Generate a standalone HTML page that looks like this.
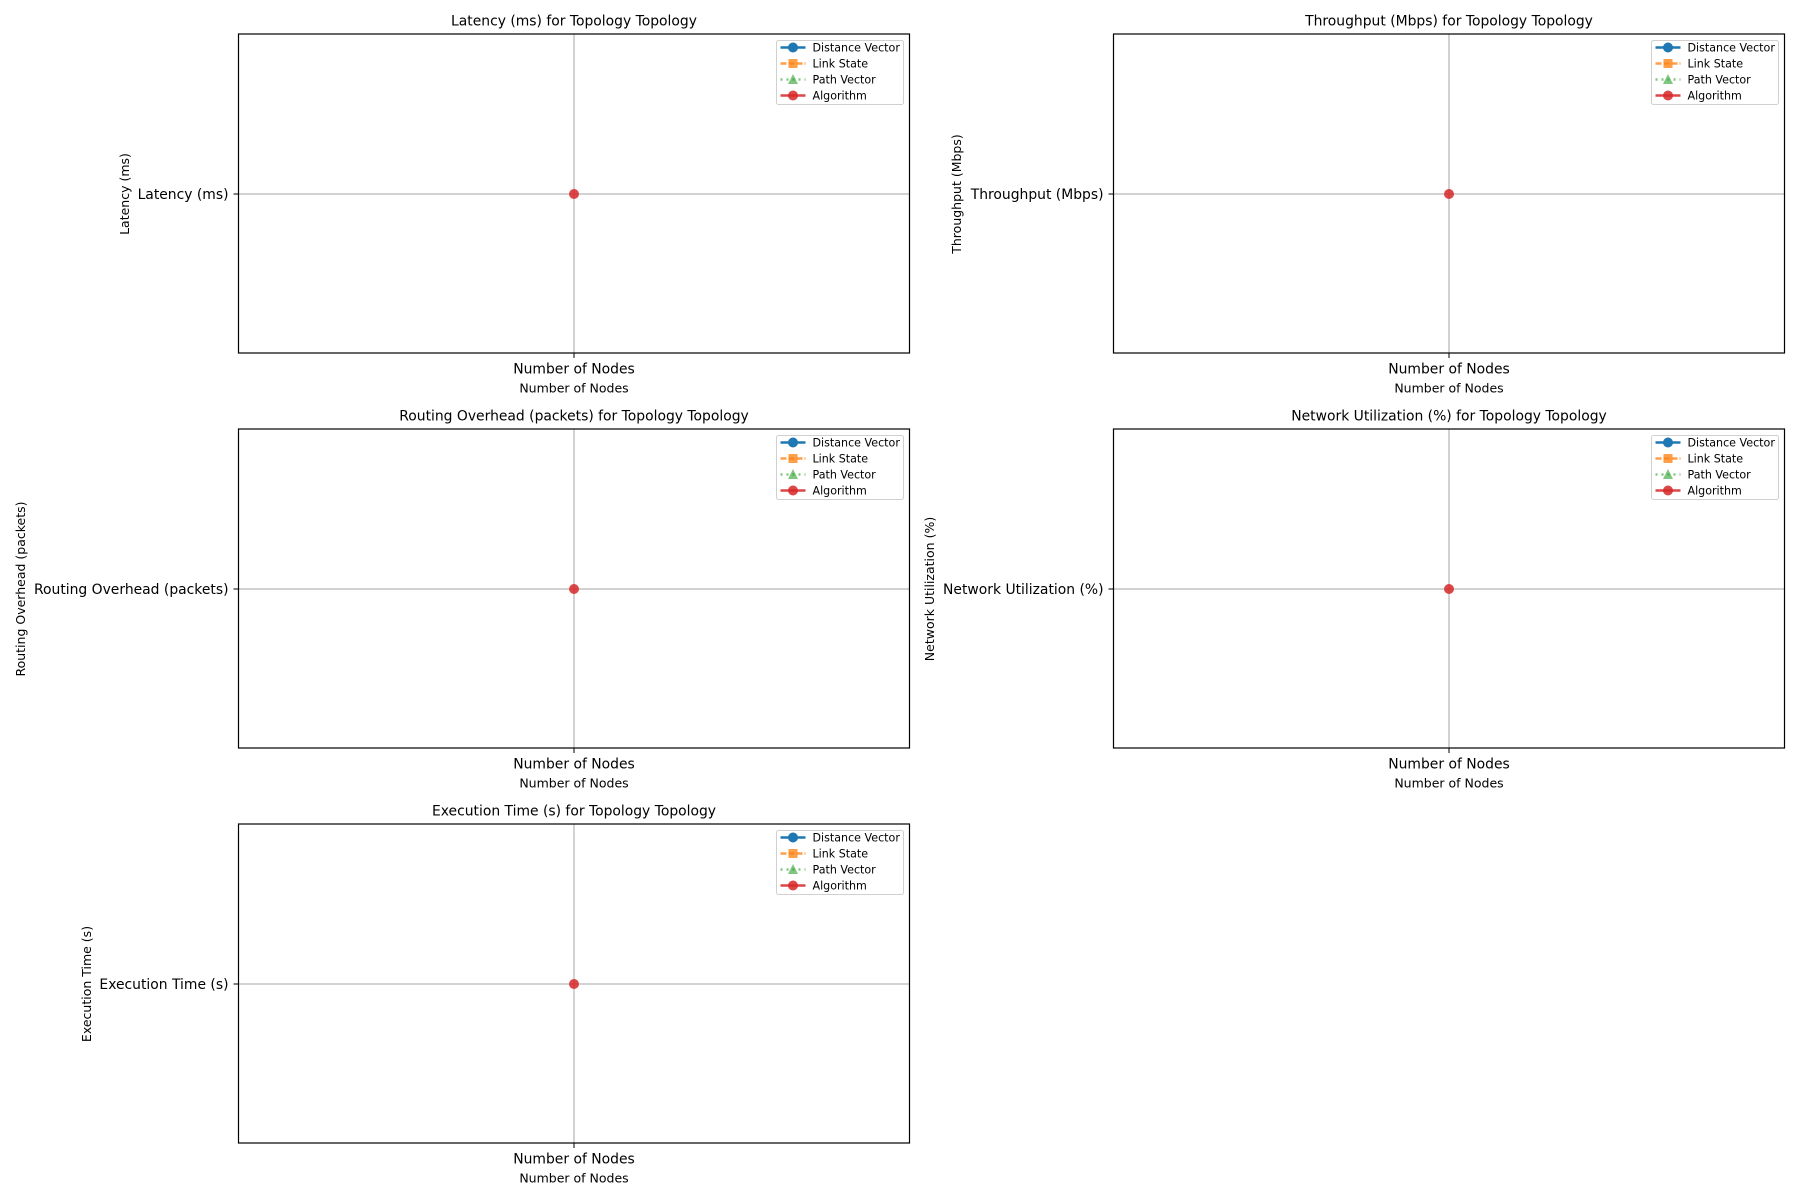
<!DOCTYPE html>
<html><head><meta charset="utf-8"><style>
html,body{margin:0;padding:0;background:#fff;}
svg{display:block;font-family:"DejaVu Sans","Liberation Sans",sans-serif;}
.t{font-size:13.9px;fill:#000;}
.s{font-size:12.5px;fill:#000;}
.l{font-size:11.1px;fill:#000;}
</style></head><body>
<svg width="1800" height="1200" viewBox="0 0 1800 1200" xmlns="http://www.w3.org/2000/svg">
<defs>
<g id="legend">
  <rect x="0" y="0" width="127" height="64" rx="2" fill="#fff" fill-opacity="0.8" stroke="#d0d0d0" stroke-width="1"/>
  <line x1="4" y1="7" x2="29" y2="7" stroke="#1f77b4" stroke-width="2.5"/>
  <circle cx="16.5" cy="7" r="5" fill="#1f77b4"/>
  <text class="l" x="36" y="11">Distance Vector</text>
  <line x1="4" y1="23" x2="29" y2="23" stroke="#ff7f0e" stroke-opacity="0.75" stroke-width="2.5" stroke-dasharray="6,2"/>
  <rect x="12" y="18.5" width="9" height="9" fill="#ff7f0e" fill-opacity="0.75"/>
  <text class="l" x="36" y="27">Link State</text>
  <line x1="4" y1="39" x2="29" y2="39" stroke="#2ca02c" stroke-opacity="0.6" stroke-width="2.5" stroke-dasharray="2,4"/>
  <polygon points="16.5,33.5 21.5,43.5 11.5,43.5" fill="#2ca02c" fill-opacity="0.6"/>
  <text class="l" x="36" y="43">Path Vector</text>
  <line x1="4" y1="55" x2="29" y2="55" stroke="#d62728" stroke-opacity="0.85" stroke-width="2.5"/>
  <circle cx="16.5" cy="55" r="5" fill="#d62728" fill-opacity="0.85"/>
  <text class="l" x="36" y="59">Algorithm</text>
</g>
<g id="axes">
  <line x1="335.5" y1="0" x2="335.5" y2="319" stroke="#a5a5a5" stroke-width="1"/>
  <line x1="0" y1="160" x2="671" y2="160" stroke="#a5a5a5" stroke-width="1"/>
  <circle cx="335.5" cy="160" r="5" fill="#d62728" fill-opacity="0.85"/>
  <rect x="0" y="0" width="671" height="319" fill="none" stroke="#000" stroke-width="1.2"/>
  <line x1="335.5" y1="319" x2="335.5" y2="324" stroke="#000" stroke-width="1"/>
  <line x1="0" y1="160" x2="-5" y2="160" stroke="#000" stroke-width="1"/>
  <use href="#legend" x="538" y="6.5"/>
  <text class="t" x="335.5" y="339.5" text-anchor="middle">Number of Nodes</text>
  <text class="s" x="335.5" y="358.5" text-anchor="middle">Number of Nodes</text>
</g>
</defs>

<g transform="translate(238.5,34)"><use href="#axes"/>
  <text class="t" x="-10" y="165" text-anchor="end">Latency (ms)</text>
</g>
<text class="t" x="574" y="25.5" text-anchor="middle">Latency (ms) for Topology Topology</text>
<text class="s" transform="translate(129,194) rotate(-90)" text-anchor="middle">Latency (ms)</text>

<g transform="translate(1113.5,34)"><use href="#axes"/>
  <text class="t" x="-10" y="165" text-anchor="end">Throughput (Mbps)</text>
</g>
<text class="t" x="1449" y="25.5" text-anchor="middle">Throughput (Mbps) for Topology Topology</text>
<text class="s" transform="translate(961,194) rotate(-90)" text-anchor="middle">Throughput (Mbps)</text>

<g transform="translate(238.5,429)"><use href="#axes"/>
  <text class="t" x="-10" y="165" text-anchor="end">Routing Overhead (packets)</text>
</g>
<text class="t" x="574" y="420.5" text-anchor="middle">Routing Overhead (packets) for Topology Topology</text>
<text class="s" transform="translate(25,589) rotate(-90)" text-anchor="middle">Routing Overhead (packets)</text>

<g transform="translate(1113.5,429)"><use href="#axes"/>
  <text class="t" x="-10" y="165" text-anchor="end">Network Utilization (%)</text>
</g>
<text class="t" x="1449" y="420.5" text-anchor="middle">Network Utilization (%) for Topology Topology</text>
<text class="s" transform="translate(934,589) rotate(-90)" text-anchor="middle">Network Utilization (%)</text>

<g transform="translate(238.5,824)"><use href="#axes"/>
  <text class="t" x="-10" y="165" text-anchor="end">Execution Time (s)</text>
</g>
<text class="t" x="574" y="815.5" text-anchor="middle">Execution Time (s) for Topology Topology</text>
<text class="s" transform="translate(91,984) rotate(-90)" text-anchor="middle">Execution Time (s)</text>
</svg>
</body></html>
